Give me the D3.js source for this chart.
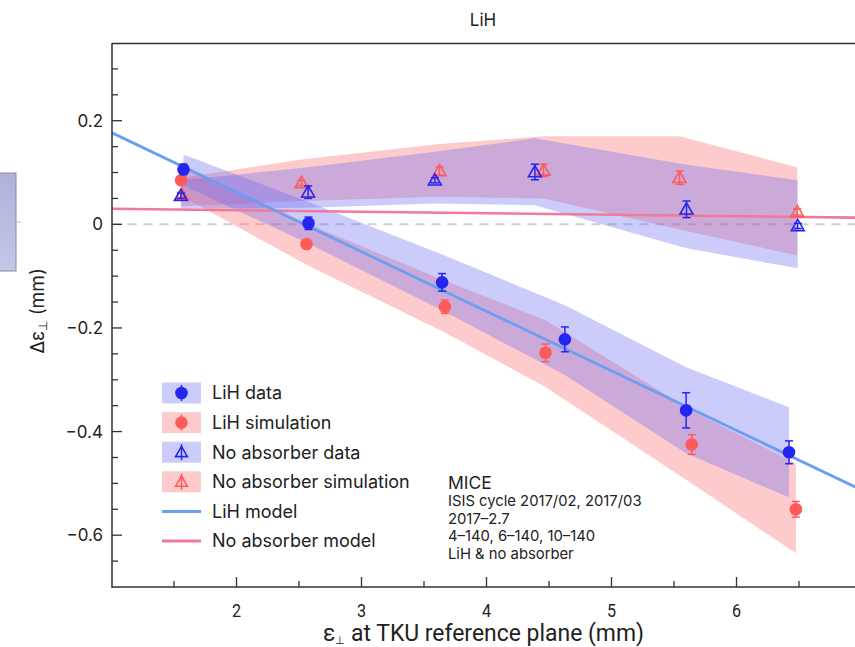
<!DOCTYPE html>
<html><head><meta charset="utf-8">
<script src="https://cdn.jsdelivr.net/npm/d3@7"></script>
<style>
html,body{margin:0;padding:0;background:#fff;overflow:hidden}
svg{display:block}
text{font-family:Inter,"Noto Sans",sans-serif;fill:#222}
.narrow{font-family:Roboto,"Liberation Sans",sans-serif}
</style></head><body>
<script>
// ---- data ----
const lihDataX   = [1.576, 2.576, 3.645, 4.627, 5.597, 6.42];
const lihDataY   = [0.106, 0.002, -0.112, -0.222, -0.359, -0.440];
const lihDataErr = [0.010, 0.012, 0.017, 0.024, 0.034, 0.022];
const lihDataBandHi = [0.135, 0.043, -0.058, -0.156, -0.276, -0.353];
const lihDataBandLo = [0.075, -0.037, -0.166, -0.291, -0.442, -0.527];

const lihSimX   = [1.557, 2.56, 3.667, 4.472, 5.642, 6.475];
const lihSimY   = [0.085, -0.038, -0.159, -0.248, -0.425, -0.550];
const lihSimErr = [0.006, 0.006, 0.013, 0.017, 0.019, 0.015];
const lihSimBandHi = [0.115, 0.002, -0.109, -0.185, -0.360, -0.461];
const lihSimBandLo = [0.055, -0.078, -0.209, -0.314, -0.500, -0.635];

const noDataX   = [1.555, 2.573, 3.587, 4.387, 5.600, 6.490];
const noDataY   = [0.055, 0.062, 0.085, 0.101, 0.029, -0.003];
const noDataErr = [0.005, 0.012, 0.005, 0.015, 0.016, 0.005];
const noDataBandHi = [0.085, 0.110, 0.140, 0.166, 0.115, 0.085];
const noDataBandLo = [0.030, 0.032, 0.040, 0.037, -0.046, -0.085];

const noSimX   = [1.560, 2.520, 3.624, 4.456, 5.544, 6.486];
const noSimY   = [0.057, 0.080, 0.103, 0.104, 0.090, 0.024];
const noSimErr = [0.005, 0.005, 0.008, 0.012, 0.013, 0.006];
const noSimBandHi = [0.090, 0.125, 0.155, 0.170, 0.170, 0.110];
const noSimBandLo = [0.035, 0.045, 0.053, 0.050, -0.010, -0.060];

const lihModelX = [1.0, 6.95];
const lihModelY = [0.177, -0.507];
const noModelX = [1.0, 6.95];
const noModelY = [0.030, 0.013];

const xMajor = [2, 3, 4, 5, 6];
const xMinor = [1.5, 2.5, 3.5, 4.5, 5.5, 6.5];
const yMajor = [-0.6, -0.4, -0.2, 0, 0.2];
const yMinor = [-0.65,-0.55,-0.5,-0.45,-0.35,-0.3,-0.25,-0.15,-0.1,-0.05,0.05,0.1,0.15,0.25,0.3];

const legendLabels = ["LiH data","LiH simulation","No absorber data","No absorber simulation","LiH model","No absorber model"];
const noteLines = ["ISIS cycle 2017/02, 2017/03","2017–2.7","4–140, 6–140, 10–140","LiH & no absorber"];

// ---- style ----
const BLUE = "#2525f0", RED = "#ff5a5a";
const BAND_BLUE = "#6a6af2", BAND_RED = "#fa6e6e";
const BLUE_LINE = "#6a9ef2", PINK_LINE = "#f07a9a";

const W = 855, H = 647;
const svg = d3.select("body").append("svg").attr("width", W).attr("height", H);

const x = d3.scaleLinear().domain([1, 7]).range([111.5, 861.5]);
const y = d3.scaleLinear().domain([-0.7, 0.35]).range([587, 43]);

// partial neighbouring panel on the left
const grad = svg.append("defs").append("linearGradient").attr("id","lg").attr("x1",0).attr("y1",0).attr("x2",0).attr("y2",1);
grad.append("stop").attr("offset",0).attr("stop-color","#aeb2da");
grad.append("stop").attr("offset",1).attr("stop-color","#c4c7e8");
svg.append("rect").attr("x",-2).attr("y",173).attr("width",18).attr("height",98)
  .attr("fill","url(#lg)").attr("stroke","#8a8a9a").attr("stroke-width",1);
svg.append("line").attr("x1",16).attr("x2",21).attr("y1",222).attr("y2",222).attr("stroke","#bbb");

const clip = svg.append("defs").append("clipPath").attr("id","pc");
clip.append("rect").attr("x",112).attr("y",43).attr("width",750).attr("height",544);
const g = svg.append("g").attr("clip-path","url(#pc)");

// zero dashed line
g.append("line").attr("x1",x(1)).attr("x2",x(7)).attr("y1",y(0)).attr("y2",y(0))
  .attr("stroke","#d0d0d0").attr("stroke-width",2).attr("stroke-dasharray","9,7");

function band(xs, hi, lo, color, op){
  const pts = xs.map((d,i)=>({x:d,hi:hi[i],lo:lo[i]}));
  const area = d3.area().x(d=>x(d.x)).y0(d=>y(d.lo)).y1(d=>y(d.hi));
  g.append("path").attr("d",area(pts)).attr("fill",color).attr("fill-opacity",op);
}
band(lihSimX, lihSimBandHi, lihSimBandLo, BAND_RED, 0.36);
band(noSimX, noSimBandHi, noSimBandLo, BAND_RED, 0.36);
band(lihDataX, lihDataBandHi, lihDataBandLo, BAND_BLUE, 0.34);
band(noDataX, noDataBandHi, noDataBandLo, BAND_BLUE, 0.34);

// model lines
const line = d3.line().x(d=>x(d[0])).y(d=>y(d[1]));
g.append("path").attr("d",line(noModelX.map((d,i)=>[d,noModelY[i]])))
  .attr("fill","none").attr("stroke",PINK_LINE).attr("stroke-width",2.6);
g.append("path").attr("d",line(lihModelX.map((d,i)=>[d,lihModelY[i]])))
  .attr("fill","none").attr("stroke",BLUE_LINE).attr("stroke-width",2.8);

// points
function errbars(xs, ys, es, color){
  xs.forEach((d,i)=>{
    const px=x(d), y1=y(ys[i]+es[i]), y2=y(ys[i]-es[i]);
    g.append("line").attr("x1",px).attr("x2",px).attr("y1",y1).attr("y2",y2).attr("stroke",color).attr("stroke-width",1.5);
    [y1,y2].forEach(yy=>g.append("line").attr("x1",px-4).attr("x2",px+4).attr("y1",yy).attr("y2",yy).attr("stroke",color).attr("stroke-width",1.5));
  });
}
const tri = d3.symbol().type(d3.symbolTriangle).size(72);
function triangles(xs, ys, es, color){
  errbars(xs, ys, es, color);
  xs.forEach((d,i)=>{
    g.append("path").attr("d",tri()).attr("transform",`translate(${x(d)},${y(ys[i])+1})`)
      .attr("fill","none").attr("stroke",color).attr("stroke-width",1.6);
  });
}
function circles(xs, ys, es, color){
  errbars(xs, ys, es, color);
  xs.forEach((d,i)=>{
    g.append("circle").attr("cx",x(d)).attr("cy",y(ys[i])).attr("r",6.3).attr("fill",color);
  });
}
triangles(noSimX, noSimY, noSimErr, RED);
triangles(noDataX, noDataY, noDataErr, BLUE);
circles(lihSimX, lihSimY, lihSimErr, RED);
circles(lihDataX, lihDataY, lihDataErr, BLUE);

// frame
const AX = "#333";
svg.append("line").attr("x1",112).attr("x2",W).attr("y1",43.5).attr("y2",43.5).attr("stroke",AX).attr("stroke-width",1.5);
svg.append("line").attr("x1",112).attr("x2",112).attr("y1",43).attr("y2",587.5).attr("stroke",AX).attr("stroke-width",1.5);
svg.append("line").attr("x1",111.5).attr("x2",W).attr("y1",587).attr("y2",587).attr("stroke",AX).attr("stroke-width",1.6);

// y ticks
yMajor.forEach(v=>{
  svg.append("line").attr("x1",112).attr("x2",122).attr("y1",y(v)).attr("y2",y(v)).attr("stroke",AX).attr("stroke-width",1.3);
  svg.append("text").attr("x",103).attr("y",y(v)).attr("dy","0.36em").attr("text-anchor","end")
    .attr("font-size",17).text(v===0?"0":(v<0?"−"+d3.format(".1f")(-v):d3.format(".1f")(v)));
});
yMinor.forEach(v=>{
  svg.append("line").attr("x1",112).attr("x2",118).attr("y1",y(v)).attr("y2",y(v)).attr("stroke",AX).attr("stroke-width",1.3);
});
// x ticks
xMajor.forEach(v=>{
  svg.append("line").attr("x1",x(v)).attr("x2",x(v)).attr("y1",587).attr("y2",577).attr("stroke",AX).attr("stroke-width",1.3);
  svg.append("text").attr("class","narrow").attr("transform",`translate(${x(v)},610) scale(0.85,1)`).attr("dy","0.36em").attr("text-anchor","middle")
    .attr("font-size",19).text(v);
});
xMinor.forEach(v=>{
  svg.append("line").attr("x1",x(v)).attr("x2",x(v)).attr("y1",587).attr("y2",581).attr("stroke",AX).attr("stroke-width",1.3);
});

// title & axis labels
svg.append("text").attr("x",483).attr("y",26).attr("text-anchor","middle").attr("font-size",17).text("LiH");
const xl = svg.append("text").attr("class","narrow").attr("x",323).attr("y",641).attr("font-size",23)
  .attr("textLength",321).attr("lengthAdjust","spacingAndGlyphs");
xl.append("tspan").text("ε");
xl.append("tspan").attr("font-size",11).attr("dy",3).text("⊥");
xl.append("tspan").attr("dy",-3).text(" at TKU reference plane (mm)");
const yl = svg.append("text").attr("transform","translate(44,311) rotate(-90)").attr("text-anchor","middle").attr("font-size",19);
yl.append("tspan").text("Δε");
yl.append("tspan").attr("font-size",11.5).attr("dy",3).text("⊥");
yl.append("tspan").attr("dy",-3).text(" (mm)");

// legend
const lg = svg.append("g");
legendLabels.forEach((t,i)=>{
  const cy = 393 + i*29.6;
  if(i<4){
    lg.append("rect").attr("x",162).attr("y",cy-10.5).attr("width",39).attr("height",21)
      .attr("fill", i%2===0?BAND_BLUE:BAND_RED).attr("fill-opacity",i%2===0?0.34:0.36);
    const c = i%2===0?BLUE:RED;
    lg.append("line").attr("x1",181.5).attr("x2",181.5).attr("y1",cy-8).attr("y2",cy+8).attr("stroke",c).attr("stroke-width",1.5);
    if(i<2){
      lg.append("circle").attr("cx",181.5).attr("cy",cy).attr("r",6.3).attr("fill",c);
    } else {
      lg.append("path").attr("d",d3.symbol().type(d3.symbolTriangle).size(60)()).attr("transform",`translate(181.5,${cy+1})`)
        .attr("fill","#fff").attr("fill-opacity",0).attr("stroke",c).attr("stroke-width",1.6);
    }
  } else {
    lg.append("line").attr("x1",162).attr("x2",201).attr("y1",cy).attr("y2",cy)
      .attr("stroke", i===4?BLUE_LINE:PINK_LINE).attr("stroke-width",3);
  }
  lg.append("text").attr("x",212).attr("y",cy).attr("dy","0.36em").attr("font-size",18).text(t);
});

// annotation
svg.append("text").attr("x",448).attr("y",489).attr("font-size",17.5).text("MICE");
noteLines.forEach((t,i)=>{
  svg.append("text").attr("x",448).attr("y",506 + i*17.7).attr("font-size",14.8).text(t);
});
</script>
</body></html>
